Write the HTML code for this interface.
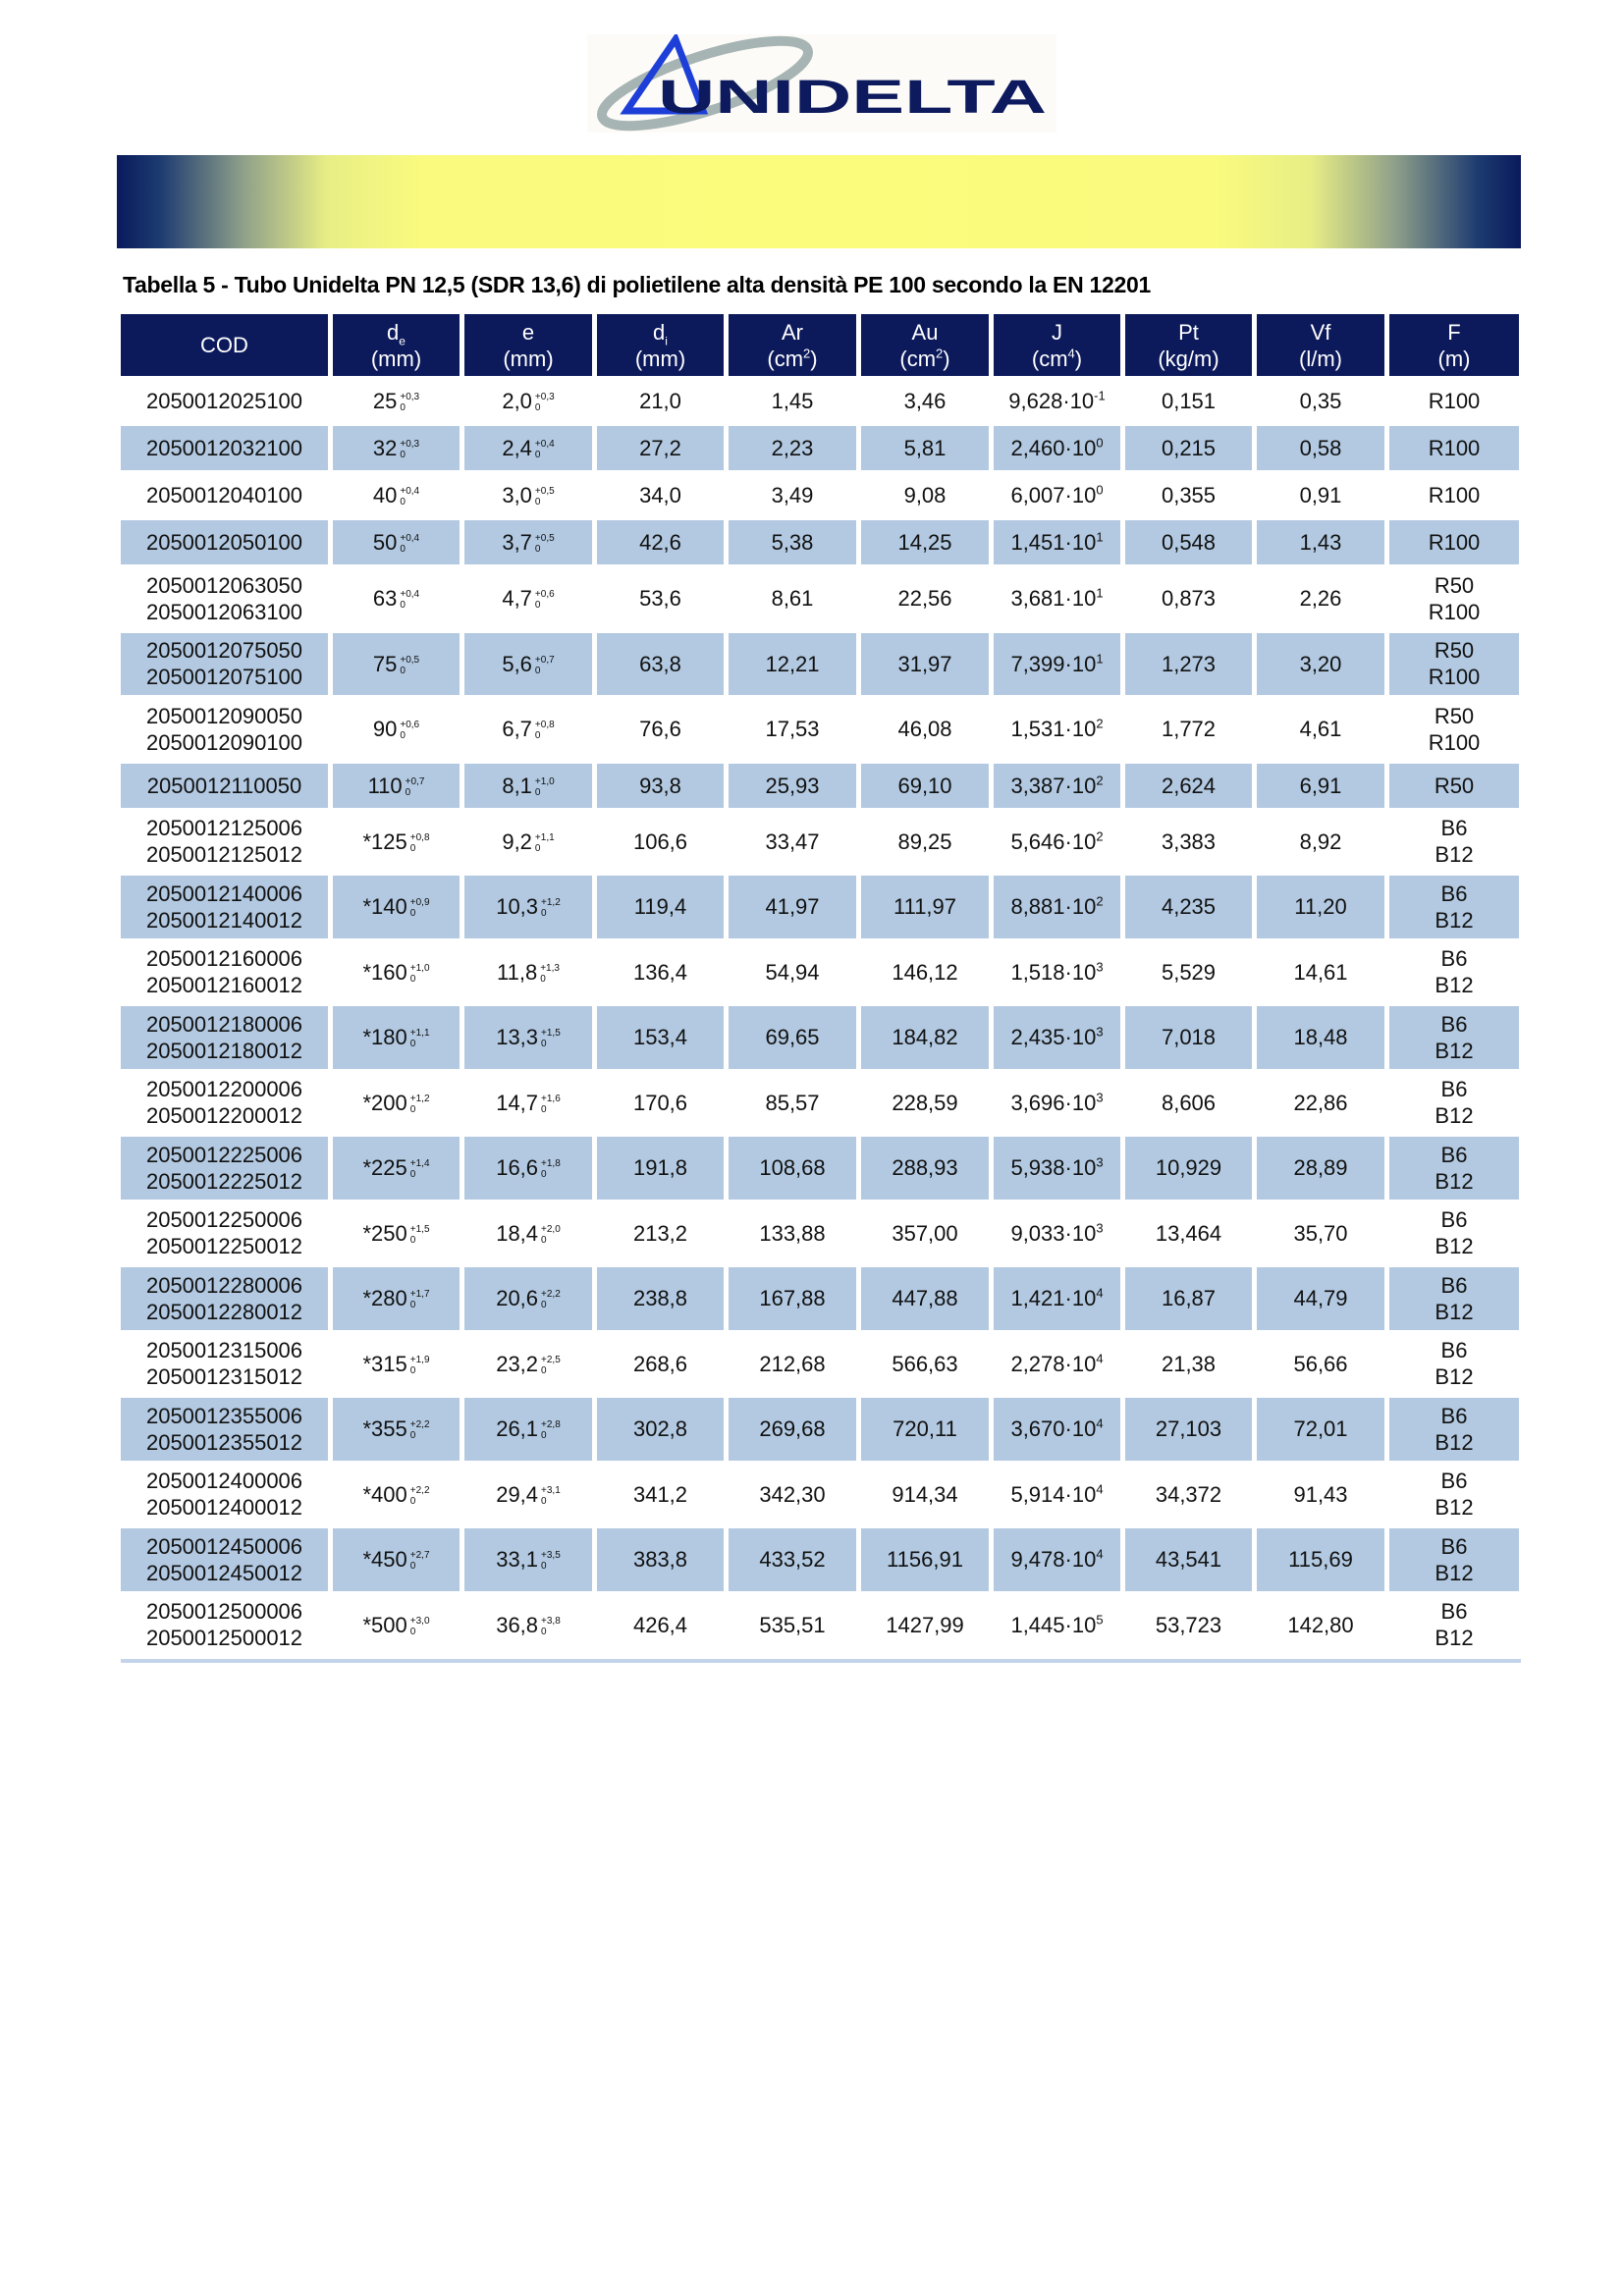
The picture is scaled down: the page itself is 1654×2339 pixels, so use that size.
<!DOCTYPE html>
<html><head><meta charset="utf-8">
<style>
body{margin:0;background:#fff;width:1654px;height:2339px;position:relative;overflow:hidden;font-family:"Liberation Sans",sans-serif;}
.banner{position:absolute;left:119px;top:158px;width:1430px;height:95px;background:linear-gradient(to right,#0a1a5c 0%,#1c3a70 3%,#8fa08a 9%,#e8ee85 15%,#fafb7e 22%,#fbfb7c 50%,#fafb7e 78%,#e8ee85 85%,#8fa08a 91%,#1c3a70 97%,#0a1a5c 100%);}
.title{position:absolute;left:125px;top:277px;font-size:23px;font-weight:bold;color:#000;letter-spacing:-0.3px;white-space:nowrap;}
table{position:absolute;left:118px;top:317px;border-collapse:separate;border-spacing:5px 3px;table-layout:fixed;}
td,th{padding:0;text-align:center;font-size:22px;color:#111;line-height:27px;}
th{background:#0c1a5c;color:#fff;font-weight:normal;height:63px;}
tr.s td{height:45px}
tr.d td{height:63.5px}
tr.b td{background:#b2c9e1;}
.t{display:inline-block;vertical-align:middle;font-size:10px;line-height:11px;text-align:left;margin-left:3px;}
.bot{position:absolute;left:123px;top:1690px;width:1426px;height:4px;background:#c3d4ea;}
sup{font-size:13px;line-height:0}
sub{line-height:0}
</style></head><body>
<svg style="position:absolute;left:598px;top:35px" width="478" height="100">
<rect x="0" y="0" width="478" height="100" fill="#fdfbf7"/>
<ellipse cx="120" cy="50" rx="110" ry="28" transform="rotate(-18 120 50)" fill="none" stroke="#a6b4b4" stroke-width="10"/>
<polygon points="90,5 40,78 118,78" fill="none" stroke="#1d3fd8" stroke-width="7"/>
<text x="72" y="80" font-family="Liberation Sans" font-weight="bold" font-size="48" fill="#0d1a5e" textLength="396" lengthAdjust="spacingAndGlyphs">UNIDELTA</text>
</svg>
<div class="banner"></div>
<div class="title">Tabella 5 - Tubo Unidelta PN 12,5 (SDR 13,6) di polietilene alta densità PE 100 secondo la EN 12201</div>
<table>
<colgroup><col style="width:211px"><col style="width:129px"><col style="width:130px"><col style="width:129px"><col style="width:130px"><col style="width:130px"><col style="width:129px"><col style="width:129px"><col style="width:130px"><col style="width:132px"></colgroup>
<tr><th>COD</th><th>d<sub style="font-size:12px">e</sub><br>(mm)</th><th>e<br>(mm)</th><th>d<sub style="font-size:12px">i</sub><br>(mm)</th><th>Ar<br>(cm<sup>2</sup>)</th><th>Au<br>(cm<sup>2</sup>)</th><th>J<br>(cm<sup>4</sup>)</th><th>Pt<br>(kg/m)</th><th>Vf<br>(l/m)</th><th>F<br>(m)</th></tr>
<tr class="s"><td>2050012025100</td><td>25<span class="t">+0,3<br>0</span></td><td>2,0<span class="t">+0,3<br>0</span></td><td>21,0</td><td>1,45</td><td>3,46</td><td>9,628·10<sup>-1</sup></td><td>0,151</td><td>0,35</td><td>R100</td></tr>
<tr class="s b"><td>2050012032100</td><td>32<span class="t">+0,3<br>0</span></td><td>2,4<span class="t">+0,4<br>0</span></td><td>27,2</td><td>2,23</td><td>5,81</td><td>2,460·10<sup>0</sup></td><td>0,215</td><td>0,58</td><td>R100</td></tr>
<tr class="s"><td>2050012040100</td><td>40<span class="t">+0,4<br>0</span></td><td>3,0<span class="t">+0,5<br>0</span></td><td>34,0</td><td>3,49</td><td>9,08</td><td>6,007·10<sup>0</sup></td><td>0,355</td><td>0,91</td><td>R100</td></tr>
<tr class="s b"><td>2050012050100</td><td>50<span class="t">+0,4<br>0</span></td><td>3,7<span class="t">+0,5<br>0</span></td><td>42,6</td><td>5,38</td><td>14,25</td><td>1,451·10<sup>1</sup></td><td>0,548</td><td>1,43</td><td>R100</td></tr>
<tr class="d"><td>2050012063050<br>2050012063100</td><td>63<span class="t">+0,4<br>0</span></td><td>4,7<span class="t">+0,6<br>0</span></td><td>53,6</td><td>8,61</td><td>22,56</td><td>3,681·10<sup>1</sup></td><td>0,873</td><td>2,26</td><td>R50<br>R100</td></tr>
<tr class="d b"><td>2050012075050<br>2050012075100</td><td>75<span class="t">+0,5<br>0</span></td><td>5,6<span class="t">+0,7<br>0</span></td><td>63,8</td><td>12,21</td><td>31,97</td><td>7,399·10<sup>1</sup></td><td>1,273</td><td>3,20</td><td>R50<br>R100</td></tr>
<tr class="d"><td>2050012090050<br>2050012090100</td><td>90<span class="t">+0,6<br>0</span></td><td>6,7<span class="t">+0,8<br>0</span></td><td>76,6</td><td>17,53</td><td>46,08</td><td>1,531·10<sup>2</sup></td><td>1,772</td><td>4,61</td><td>R50<br>R100</td></tr>
<tr class="s b"><td>2050012110050</td><td>110<span class="t">+0,7<br>0</span></td><td>8,1<span class="t">+1,0<br>0</span></td><td>93,8</td><td>25,93</td><td>69,10</td><td>3,387·10<sup>2</sup></td><td>2,624</td><td>6,91</td><td>R50</td></tr>
<tr class="d"><td>2050012125006<br>2050012125012</td><td>*125<span class="t">+0,8<br>0</span></td><td>9,2<span class="t">+1,1<br>0</span></td><td>106,6</td><td>33,47</td><td>89,25</td><td>5,646·10<sup>2</sup></td><td>3,383</td><td>8,92</td><td>B6<br>B12</td></tr>
<tr class="d b"><td>2050012140006<br>2050012140012</td><td>*140<span class="t">+0,9<br>0</span></td><td>10,3<span class="t">+1,2<br>0</span></td><td>119,4</td><td>41,97</td><td>111,97</td><td>8,881·10<sup>2</sup></td><td>4,235</td><td>11,20</td><td>B6<br>B12</td></tr>
<tr class="d"><td>2050012160006<br>2050012160012</td><td>*160<span class="t">+1,0<br>0</span></td><td>11,8<span class="t">+1,3<br>0</span></td><td>136,4</td><td>54,94</td><td>146,12</td><td>1,518·10<sup>3</sup></td><td>5,529</td><td>14,61</td><td>B6<br>B12</td></tr>
<tr class="d b"><td>2050012180006<br>2050012180012</td><td>*180<span class="t">+1,1<br>0</span></td><td>13,3<span class="t">+1,5<br>0</span></td><td>153,4</td><td>69,65</td><td>184,82</td><td>2,435·10<sup>3</sup></td><td>7,018</td><td>18,48</td><td>B6<br>B12</td></tr>
<tr class="d"><td>2050012200006<br>2050012200012</td><td>*200<span class="t">+1,2<br>0</span></td><td>14,7<span class="t">+1,6<br>0</span></td><td>170,6</td><td>85,57</td><td>228,59</td><td>3,696·10<sup>3</sup></td><td>8,606</td><td>22,86</td><td>B6<br>B12</td></tr>
<tr class="d b"><td>2050012225006<br>2050012225012</td><td>*225<span class="t">+1,4<br>0</span></td><td>16,6<span class="t">+1,8<br>0</span></td><td>191,8</td><td>108,68</td><td>288,93</td><td>5,938·10<sup>3</sup></td><td>10,929</td><td>28,89</td><td>B6<br>B12</td></tr>
<tr class="d"><td>2050012250006<br>2050012250012</td><td>*250<span class="t">+1,5<br>0</span></td><td>18,4<span class="t">+2,0<br>0</span></td><td>213,2</td><td>133,88</td><td>357,00</td><td>9,033·10<sup>3</sup></td><td>13,464</td><td>35,70</td><td>B6<br>B12</td></tr>
<tr class="d b"><td>2050012280006<br>2050012280012</td><td>*280<span class="t">+1,7<br>0</span></td><td>20,6<span class="t">+2,2<br>0</span></td><td>238,8</td><td>167,88</td><td>447,88</td><td>1,421·10<sup>4</sup></td><td>16,87</td><td>44,79</td><td>B6<br>B12</td></tr>
<tr class="d"><td>2050012315006<br>2050012315012</td><td>*315<span class="t">+1,9<br>0</span></td><td>23,2<span class="t">+2,5<br>0</span></td><td>268,6</td><td>212,68</td><td>566,63</td><td>2,278·10<sup>4</sup></td><td>21,38</td><td>56,66</td><td>B6<br>B12</td></tr>
<tr class="d b"><td>2050012355006<br>2050012355012</td><td>*355<span class="t">+2,2<br>0</span></td><td>26,1<span class="t">+2,8<br>0</span></td><td>302,8</td><td>269,68</td><td>720,11</td><td>3,670·10<sup>4</sup></td><td>27,103</td><td>72,01</td><td>B6<br>B12</td></tr>
<tr class="d"><td>2050012400006<br>2050012400012</td><td>*400<span class="t">+2,2<br>0</span></td><td>29,4<span class="t">+3,1<br>0</span></td><td>341,2</td><td>342,30</td><td>914,34</td><td>5,914·10<sup>4</sup></td><td>34,372</td><td>91,43</td><td>B6<br>B12</td></tr>
<tr class="d b"><td>2050012450006<br>2050012450012</td><td>*450<span class="t">+2,7<br>0</span></td><td>33,1<span class="t">+3,5<br>0</span></td><td>383,8</td><td>433,52</td><td>1156,91</td><td>9,478·10<sup>4</sup></td><td>43,541</td><td>115,69</td><td>B6<br>B12</td></tr>
<tr class="d"><td>2050012500006<br>2050012500012</td><td>*500<span class="t">+3,0<br>0</span></td><td>36,8<span class="t">+3,8<br>0</span></td><td>426,4</td><td>535,51</td><td>1427,99</td><td>1,445·10<sup>5</sup></td><td>53,723</td><td>142,80</td><td>B6<br>B12</td></tr>
</table>
<div class="bot"></div>
</body></html>
